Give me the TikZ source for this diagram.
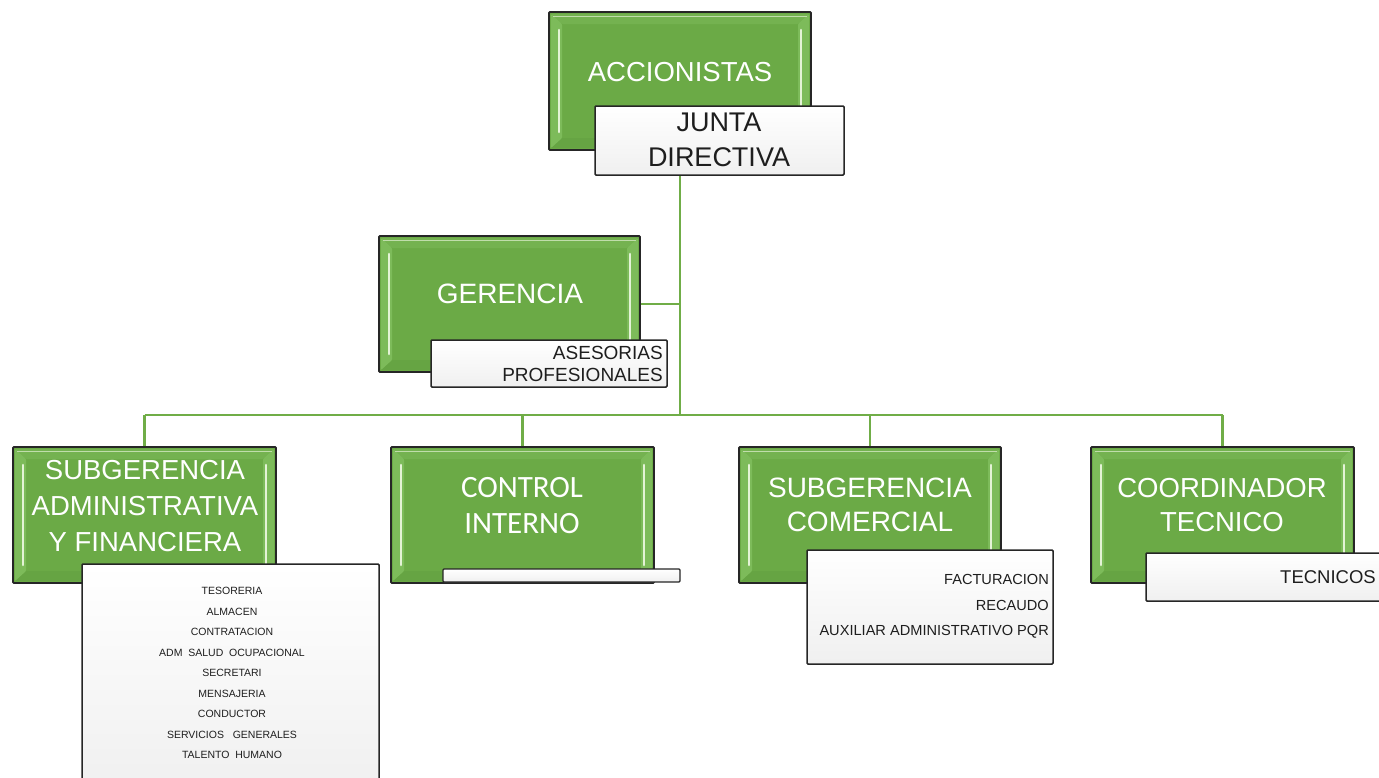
\documentclass[tikz,border=0pt]{standalone}
\usepackage{fontspec}
\setmainfont{Liberation Sans}
\newfontfamily\calib{Carlito}
\usetikzlibrary{backgrounds,calc}
\definecolor{grn}{HTML}{6BAA46}
\definecolor{grnline}{HTML}{70AD47}
\definecolor{bevlight}{HTML}{7DBB5A}
\definecolor{bevhi}{HTML}{E4F3D6}
\definecolor{bevtop}{HTML}{74B250}
\definecolor{bevbot}{HTML}{66A443}
\definecolor{txtdark}{HTML}{1E1E1E}
\tikzset{
  gbox/.style={draw=black!85, line width=1.8pt, fill=grn, inner sep=0pt, rounded corners=1pt,
    path picture={
      \path (path picture bounding box.north west) coordinate (nw)
            (path picture bounding box.south east) coordinate (se);
      \coordinate (sw) at (nw |- se);
      \coordinate (ne) at (se |- nw);
      \fill[bevtop] ([shift={(2pt,-2pt)}]nw) -- ([shift={(-2pt,-2pt)}]ne) -- ([shift={(-13pt,-12pt)}]ne) -- ([shift={(13pt,-12pt)}]nw) -- cycle;
      \fill[bevbot] ([shift={(2pt,2pt)}]sw) -- ([shift={(-2pt,2pt)}]se) -- ([shift={(-13pt,12pt)}]se) -- ([shift={(13pt,12pt)}]sw) -- cycle;
      \fill[bevlight] ([shift={(2pt,-2pt)}]nw) -- ([shift={(13pt,-12pt)}]nw) -- ([shift={(13pt,12pt)}]sw) -- ([shift={(2pt,2pt)}]sw) -- cycle;
      \fill[bevlight] ([shift={(-2pt,-2pt)}]ne) -- ([shift={(-13pt,-12pt)}]ne) -- ([shift={(-13pt,12pt)}]se) -- ([shift={(-2pt,2pt)}]se) -- cycle;
      \draw[bevhi!70!grn, line width=0.8pt] ([shift={(4pt,-4pt)}]nw) -- ([shift={(-4pt,-4pt)}]ne);
      \draw[bevhi, line width=2.6pt, line cap=round] ([shift={(10pt,-18pt)}]nw) -- ([shift={(10pt,18pt)}]sw);
      \draw[bevhi, line width=2.6pt, line cap=round] ([shift={(-10pt,-18pt)}]ne) -- ([shift={(-10pt,18pt)}]se);
    }},
  wbox/.style={draw=black!85, line width=1.5pt, top color=white, bottom color=black!6, inner sep=0pt, rounded corners=1pt},
  gtext/.style={text=white, align=center, inner sep=0pt},
  wtext/.style={text=txtdark, inner sep=0pt},
  conn/.style={draw=grnline, line width=2.6pt},
}
\begin{document}
\begin{tikzpicture}[x=1pt,y=-1pt]
\useasboundingbox (0,0) rectangle (1379,777);
\coordinate (bus) at (680,415);

% top
\node[gbox, minimum width=262pt, minimum height=138pt] (acc) at (680,81) {};
\node[gtext, font=\fontsize{27.5}{34}\selectfont] (accT) at (680,72) {ACCIONISTAS};
\node[wbox, minimum width=249pt, minimum height=69pt] (junta) at (719.5,140.5) {};
\node[wtext, align=center, font=\fontsize{27}{35}\selectfont] (juntaT) at (719,140) {JUNTA\\DIRECTIVA};

% gerencia
\node[gbox, minimum width=261pt, minimum height=136pt] (ger) at (509.5,304) {};
\node[gtext, font=\fontsize{28}{34}\selectfont] (gerT) at (510,294) {GERENCIA};
\node[wbox, minimum width=236pt, minimum height=47pt] (ases) at (549,363.5) {};
\node[wtext, align=right, anchor=east, font=\fontsize{19}{22}\selectfont] (asesT) at (663,364) {ASESORIAS\\PROFESIONALES};

% second level
\node[gbox, minimum width=263pt, minimum height=136pt] (sa) at (144.5,515) {};
\node[gtext, font=\fontsize{27.5}{36}\selectfont] (saT) at (145,506) {SUBGERENCIA\\ADMINISTRATIVA\\Y FINANCIERA};
\node[wbox, minimum width=297pt, minimum height=226pt] (saL) at (230.5,677) {};
\node[wtext, align=center, font=\fontsize{10.5}{20.5}\selectfont] (saLT) at (232,673)
  {TESORERIA\\ALMACEN\\CONTRATACION\\ADM\ \ SALUD\ \ OCUPACIONAL\\SECRETARI\\MENSAJERIA\\CONDUCTOR\\SERVICIOS\ \ \ GENERALES\\TALENTO\ \ HUMANO};

\node[gbox, minimum width=263pt, minimum height=136pt] (ci) at (522.5,515) {};
\node[gtext, font=\calib\fontsize{31}{36}\selectfont] (ciT) at (522,506) {CONTROL\\INTERNO};
\node[wbox, line width=1.3pt, minimum width=237pt, minimum height=13pt] (ciL) at (561.5,575.5) {};

\node[gbox, minimum width=262pt, minimum height=136pt] (sc) at (870,515) {};
\node[gtext, font=\fontsize{28}{34}\selectfont] (scT) at (870,505) {SUBGERENCIA\\COMERCIAL};
\node[wbox, minimum width=246pt, minimum height=114pt] (scL) at (930,607) {};
\node[wtext, align=right, anchor=east, font=\fontsize{14.6}{25.5}\selectfont] (scLT) at (1049,606.5) {FACTURACION\\RECAUDO\\AUXILIAR ADMINISTRATIVO PQR};

\node[gbox, minimum width=263pt, minimum height=136pt] (ct) at (1222.5,515) {};
\node[gtext, font=\fontsize{27.5}{34}\selectfont] (ctT) at (1222,505) {COORDINADOR\\TECNICO};
\node[wbox, minimum width=244pt, minimum height=48pt] (ctL) at (1268,577) {};
\node[wtext, anchor=east, font=\fontsize{18.5}{22}\selectfont] (ctLT) at (1376,577) {TECNICOS};

\begin{pgfonlayer}{background}
  \draw[conn] (acc |- junta.south) -- (bus);
  \draw[conn] (ger.east) -- (ger.east -| bus);
  \draw[conn] (sa |- bus) -- (ct |- bus);
  \foreach \n in {sa,ci,sc,ct} \draw[conn] (\n |- bus) -- (\n.north);
\end{pgfonlayer}
\end{tikzpicture}
\end{document}
